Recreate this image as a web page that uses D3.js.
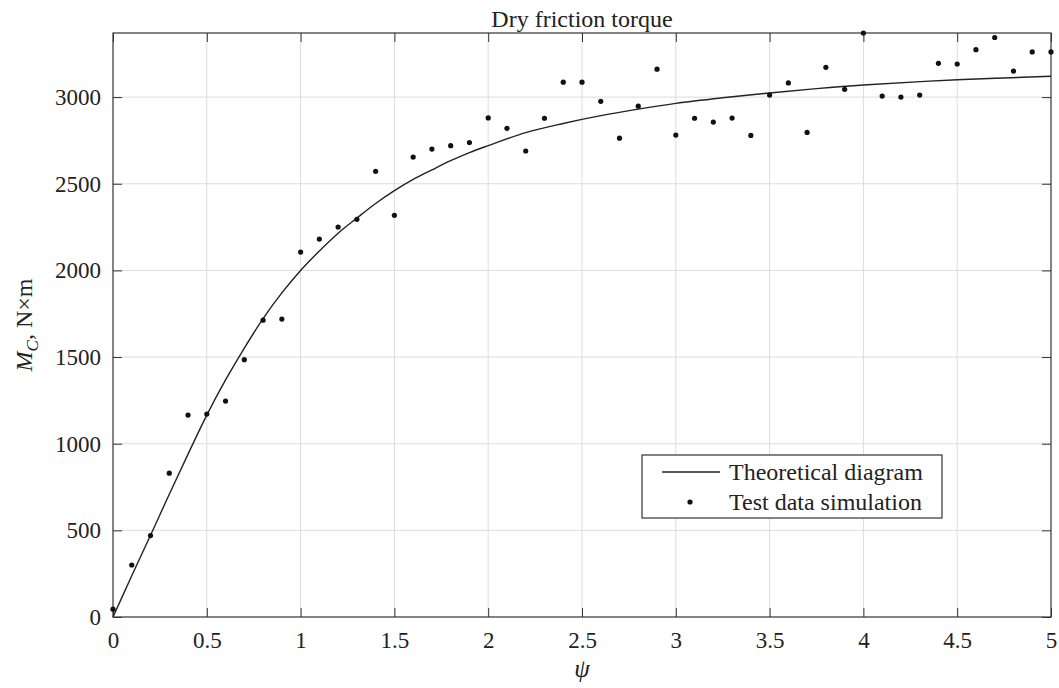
<!DOCTYPE html>
<html lang="en">
<head>
    <meta charset="UTF-8">
    <script src="https://d3js.org/d3.v7.min.js"></script>
    <style>
        body {
            margin: 0;
            background: #fff;
        }
        svg text {
            font-family: "Liberation Serif", "Times New Roman", serif;
            fill: #222;
        }
    </style>
</head>
<body>
    <div id="chart"></div>
    <script>
        // test data points (psi, torque)
        const psiTest = [0, 0.1, 0.2, 0.3, 0.4, 0.5, 0.6, 0.7, 0.8, 0.9,
            1.0, 1.1, 1.2, 1.3, 1.4, 1.5, 1.6, 1.7, 1.8, 1.9,
            2.0, 2.1, 2.2, 2.3, 2.4, 2.5, 2.6, 2.7, 2.8, 2.9,
            3.0, 3.1, 3.2, 3.3, 3.4, 3.5, 3.6, 3.7, 3.8, 3.9,
            4.0, 4.1, 4.2, 4.3, 4.4, 4.5, 4.6, 4.7, 4.8, 4.9, 5.0];
        const torqueTest = [45, 300, 470, 830, 1165, 1171, 1246, 1485, 1713, 1719,
            2106, 2181, 2250, 2295, 2572, 2318, 2654, 2700, 2720, 2738,
            2880, 2820, 2689, 2878, 3086, 3086, 2976, 2763, 2948, 3161,
            2781, 2878, 2856, 2879, 2779, 3012, 3082, 2796, 3172, 3045,
            3370, 3006, 3000, 3012, 3195, 3191, 3274, 3344, 3150, 3261, 3261];

        // theoretical curve
        const psiTheory = [0, 0.1, 0.2, 0.3, 0.4, 0.5, 0.6, 0.7, 0.8, 0.9,
            1.0, 1.1, 1.2, 1.3, 1.4, 1.5, 1.6, 1.7, 1.8, 1.9,
            2.0, 2.2, 2.4, 2.6, 2.8, 3.0, 3.25, 3.5, 3.75, 4.0, 4.5, 5.0];
        const torqueTheory = [0, 238, 472, 708, 940, 1165, 1368, 1552, 1722, 1870,
            2000, 2112, 2215, 2302, 2386, 2460, 2525, 2580, 2633, 2680,
            2720, 2795, 2848, 2893, 2931, 2964, 2996, 3024, 3049, 3070, 3100, 3120];

        const xTicks = [0, 0.5, 1, 1.5, 2, 2.5, 3, 3.5, 4, 4.5, 5];
        const yTicks = [0, 500, 1000, 1500, 2000, 2500, 3000];
        const yMax = 3370;

        const width = 1059, height = 688;
        const margin = { top: 33, right: 8, bottom: 71, left: 113 };

        const x = d3.scaleLinear()
            .domain([0, 5])
            .range([margin.left, width - margin.right]);

        const y = d3.scaleLinear()
            .domain([0, yMax])
            .range([height - margin.bottom, margin.top]);

        const svg = d3.select("#chart").append("svg")
            .attr("width", width)
            .attr("height", height);

        // grid
        svg.append("g")
            .selectAll("line")
            .data(xTicks.slice(1, -1))
            .enter().append("line")
            .attr("x1", d => x(d)).attr("x2", d => x(d))
            .attr("y1", y(0)).attr("y2", y(yMax))
            .attr("stroke", "#dcdcdc");

        svg.append("g")
            .selectAll("line")
            .data(yTicks.slice(1))
            .enter().append("line")
            .attr("x1", x(0)).attr("x2", x(5))
            .attr("y1", d => y(d)).attr("y2", d => y(d))
            .attr("stroke", "#dcdcdc");

        // axes, ticks inside, mirrored on top and right
        const tickLen = 9;
        const fmt = d => String(d);
        const axisStyle = g => {
            g.attr("font-family", null).attr("font-size", null);
            g.select(".domain").remove();
            g.selectAll(".tick line").attr("stroke", "#333");
            g.selectAll(".tick text")
                .attr("font-family", "Liberation Serif")
                .attr("font-size", 23)
                .attr("fill", "#222");
        };

        svg.append("g")
            .attr("transform", `translate(0,${y(0)})`)
            .call(d3.axisBottom(x).tickValues(xTicks).tickSizeInner(-tickLen).tickSizeOuter(0)
                .tickPadding(15).tickFormat(fmt))
            .call(axisStyle);

        svg.append("g")
            .attr("transform", `translate(0,${y(yMax)})`)
            .call(d3.axisTop(x).tickValues(xTicks).tickSizeInner(-tickLen).tickSizeOuter(0)
                .tickFormat(""))
            .call(axisStyle);

        svg.append("g")
            .attr("transform", `translate(${x(0)},0)`)
            .call(d3.axisLeft(y).tickValues(yTicks).tickSizeInner(-tickLen).tickSizeOuter(0)
                .tickPadding(12).tickFormat(fmt))
            .call(axisStyle);

        svg.append("g")
            .attr("transform", `translate(${x(5)},0)`)
            .call(d3.axisRight(y).tickValues(yTicks).tickSizeInner(-tickLen).tickSizeOuter(0)
                .tickFormat(""))
            .call(axisStyle);

        // box
        svg.append("rect")
            .attr("x", x(0)).attr("y", y(yMax))
            .attr("width", x(5) - x(0)).attr("height", y(0) - y(yMax))
            .attr("fill", "none")
            .attr("stroke", "#333")
            .attr("stroke-width", 1.2);

        // theoretical line
        const line = d3.line()
            .x((d, i) => x(psiTheory[i]))
            .y(d => y(d))
            .curve(d3.curveCatmullRom);

        svg.append("path")
            .datum(torqueTheory)
            .attr("d", line)
            .attr("fill", "none")
            .attr("stroke", "#222")
            .attr("stroke-width", 1.4);

        // test points
        svg.append("g")
            .selectAll("circle")
            .data(torqueTest)
            .enter().append("circle")
            .attr("cx", (d, i) => x(psiTest[i]))
            .attr("cy", d => y(d))
            .attr("r", 2.6)
            .attr("fill", "#111");

        // title
        svg.append("text")
            .attr("x", (x(0) + x(5)) / 2)
            .attr("y", 27)
            .attr("text-anchor", "middle")
            .style("font-size", "24px")
            .text("Dry friction torque");

        // x label
        svg.append("text")
            .attr("x", (x(0) + x(5)) / 2)
            .attr("y", 677)
            .attr("text-anchor", "middle")
            .style("font-size", "25px")
            .style("font-style", "italic")
            .text("ψ");

        // y label
        const yl = svg.append("text")
            .attr("transform", `translate(32,${(y(0) + y(yMax)) / 2}) rotate(-90)`)
            .attr("text-anchor", "middle")
            .style("font-size", "24px");
        yl.append("tspan").style("font-style", "italic").text("M");
        yl.append("tspan").style("font-style", "italic").style("font-size", "17px")
            .attr("dy", 6).text("C");
        yl.append("tspan").attr("dy", -6).text(", N×m");

        // legend
        const lg = svg.append("g").attr("transform", "translate(642,455)");
        lg.append("rect")
            .attr("width", 300).attr("height", 63)
            .attr("fill", "#fff")
            .attr("stroke", "#333")
            .attr("stroke-width", 1.2);
        lg.append("line")
            .attr("x1", 20).attr("x2", 78)
            .attr("y1", 17).attr("y2", 17)
            .attr("stroke", "#222").attr("stroke-width", 1.4);
        lg.append("circle")
            .attr("cx", 48).attr("cy", 47).attr("r", 2.6).attr("fill", "#111");
        lg.append("text").attr("x", 87).attr("y", 25)
            .style("font-size", "24px").text("Theoretical diagram");
        lg.append("text").attr("x", 87).attr("y", 55)
            .style("font-size", "24px").text("Test data simulation");
    </script>
</body>
</html>
